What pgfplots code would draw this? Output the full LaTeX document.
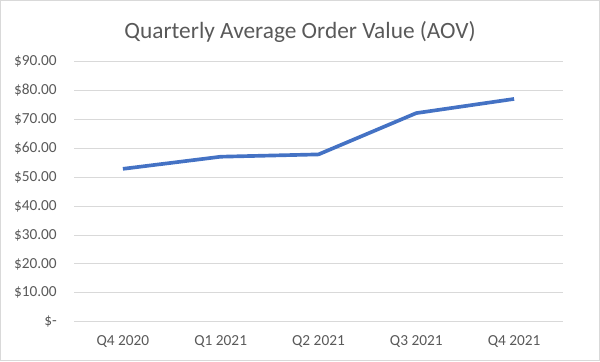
\documentclass[border=0pt]{standalone}
\usepackage{pgfplots}
\pgfplotsset{compat=1.18}
\usepackage{fontspec}
\setmainfont{Carlito}
\definecolor{txt}{HTML}{595959}
\definecolor{gridc}{HTML}{D9D9D9}
\definecolor{linec}{HTML}{4472C4}
\begin{document}
\begin{tikzpicture}
\useasboundingbox (0,0) rectangle (450pt,270.75pt);
\draw[gridc, line width=0.75pt] (0.375pt,0.375pt) rectangle (449.625pt,270.375pt);
\node[txt, font=\fontsize{17.5}{20}\selectfont] at (225pt,247pt) {Quarterly Average Order Value (AOV)};
\begin{axis}[
  at={(55.5pt,29.5pt)}, anchor=south west,
  scale only axis, width=366.75pt, height=195pt,
  xmin=-0.5, xmax=4.5, ymin=0, ymax=90,
  axis line style={draw=none},
  tick style={draw=none},
  ymajorgrids, grid style={gridc, line width=0.75pt},
  xtick={0,1,2,3,4},
  xticklabels={Q4 2020, Q1 2021, Q2 2021, Q3 2021, Q4 2021},
  ytick={0,10,20,30,40,50,60,70,80,90},
  yticklabels={\$-, \$10.00, \$20.00, \$30.00, \$40.00, \$50.00, \$60.00, \$70.00, \$80.00, \$90.00},
  ticklabel style={txt, font=\fontsize{11.5}{13}\selectfont, inner sep=0pt},
  yticklabel style={anchor=east, xshift=-12.75pt},
  xticklabel style={anchor=north, yshift=-10.5pt},
]
\addplot[linec, line width=2.75pt, line join=round] coordinates {(0,52.9) (1,57.1) (2,57.9) (3,72.2) (4,77.1)};
\end{axis}
\end{tikzpicture}
\end{document}
